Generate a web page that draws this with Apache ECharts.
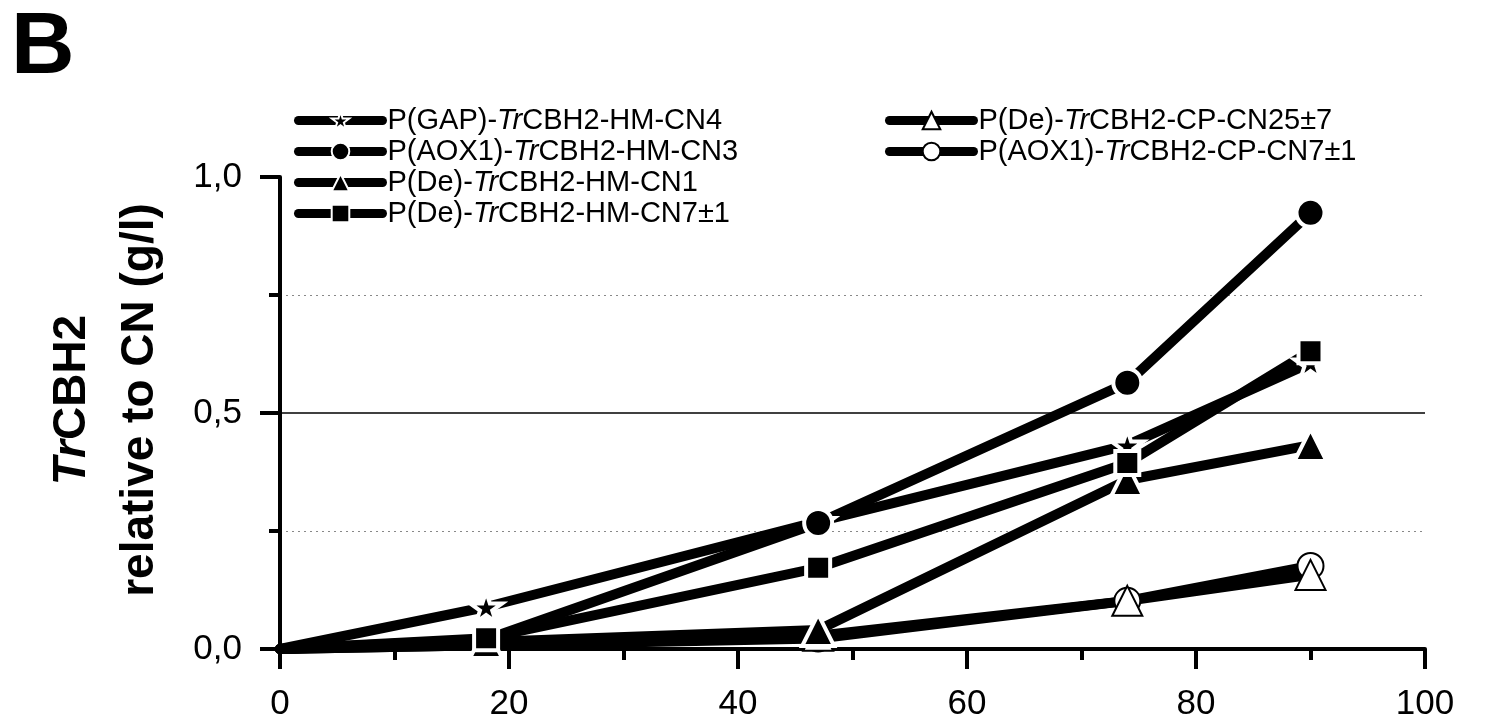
<!DOCTYPE html>
<html>
<head>
    <meta charset="utf-8">
    <title>TrCBH2 relative to CN</title>
    <script src="https://cdn.jsdelivr.net/npm/echarts@6/dist/echarts.min.js"></script>
    <style>
        html, body { margin: 0; padding: 0; background: #fff; }
        #chart { width: 1490px; height: 724px; }
    </style>
</head>
<body>
    <div id="chart"></div>

    <script>
    // time points (x) and values per strain
    const hours = [0, 18, 47, 74, 90];
    const gapHm4 = [0, 0.089, 0.27, 0.432, 0.606];
    const aoxHm3 = [0, 0.02, 0.267, 0.564, 0.924];
    const deHm1 = [0, 0.015, 0.04, 0.358, 0.432];
    const deHm7 = [0, 0.023, 0.172, 0.394, 0.631];
    const deCp25 = [0, 0.008, 0.028, 0.102, 0.157];
    const aoxCp7 = [0, 0.008, 0.022, 0.102, 0.176];

    const names = [
        'P(GAP)-TrCBH2-HM-CN4',
        'P(AOX1)-TrCBH2-HM-CN3',
        'P(De)-TrCBH2-HM-CN1',
        'P(De)-TrCBH2-HM-CN7±1',
        'P(De)-TrCBH2-CP-CN25±7',
        'P(AOX1)-TrCBH2-CP-CN7±1'
    ];
    const yTicks = { 0: '0,0', 0.5: '0,5', 1: '1,0' };

    const FONT = "'Liberation Sans', Arial, sans-serif";
    const STAR = 'path://M0,-1 L0.225,-0.309 L0.951,-0.309 L0.363,0.118 L0.588,0.809 L0,0.382 L-0.588,0.809 L-0.363,0.118 L-0.951,-0.309 L-0.225,-0.309 Z';

    // hidden: indexes whose marker sits under the line bundle in the figure
    function pairs(vals, hidden) {
        return hours.map(function (h, i) {
            const p = { value: [h, vals[i]] };
            if (i === 0 || hidden.indexOf(i) >= 0) p.symbol = 'none';
            return p;
        });
    }

    function makeSeries(name, vals, symbol, size, open, hidden) {
        return {
            name: name,
            type: 'line',
            data: pairs(vals, hidden || []),
            symbol: symbol,
            symbolSize: size,
            symbolKeepAspect: true,
            showAllSymbol: true,
            lineStyle: { color: '#000', width: 10, cap: 'round', join: 'round' },
            itemStyle: open
                ? { color: '#fff', borderColor: '#000', borderWidth: 2 }
                : { color: '#000', borderColor: '#fff', borderWidth: 4 },
            emphasis: { disabled: true },
            animation: false
        };
    }

    const legendText = {
        fontFamily: FONT,
        fontSize: 29,
        lineHeight: 29,
        color: '#000',
        rich: {
            i: { fontFamily: FONT, fontSize: 29, lineHeight: 29, fontStyle: 'italic', color: '#000' }
        }
    };
    function legendFmt(name) {
        return name.replace('Tr', '{i|Tr}');
    }
    function makeLegend(data, left) {
        return {
            data: data,
            orient: 'vertical',
            left: left,
            top: 101,
            itemWidth: 84,
            itemHeight: 22,
            itemGap: 2,
            textStyle: legendText,
            formatter: legendFmt,
            lineStyle: { width: 9, cap: 'round' },
            selectedMode: false
        };
    }

    const option = {
        backgroundColor: '#fff',
        animation: false,
        title: {
            text: 'B',
            left: 6,
            top: 0,
            textStyle: { fontFamily: FONT, fontSize: 88, fontWeight: 'bold', color: '#000' }
        },
        legend: [makeLegend(names.slice(0, 4), 289), makeLegend(names.slice(4), 880)],
        grid: { left: 280, right: 65, top: 177, bottom: 75 },
        xAxis: {
            type: 'value',
            min: 0,
            max: 100,
            interval: 20,
            axisLine: { lineStyle: { color: '#000', width: 4 } },
            axisTick: { length: 20, lineStyle: { color: '#000', width: 4 } },
            minorTick: { show: true, splitNumber: 2, length: 11, lineStyle: { color: '#000', width: 4 } },
            splitLine: { show: false },
            axisLabel: { fontFamily: FONT, fontSize: 35, color: '#000', margin: 38 }
        },
        yAxis: {
            type: 'value',
            min: 0,
            max: 1,
            interval: 0.5,
            axisLine: { show: true, lineStyle: { color: '#000', width: 4 } },
            axisTick: { show: true, length: 20, lineStyle: { color: '#000', width: 4 } },
            minorTick: { show: true, splitNumber: 2, length: 11, lineStyle: { color: '#000', width: 4 } },
            splitLine: { show: true, showMinLine: false, showMaxLine: false, lineStyle: { color: '#000', width: 1.5 } },
            minorSplitLine: { show: true, lineStyle: { color: '#888', width: 1, type: [2, 4] } },
            axisLabel: {
                fontFamily: FONT, fontSize: 35, color: '#000', margin: 38,
                formatter: function (v) { return yTicks[v] || ''; }
            }
        },
        graphic: [{
            type: 'text',
            x: 106,
            y: 400,
            rotation: Math.PI / 2,
            style: {
                text: '{i|Tr}{b|CBH2}\n{b|relative to CN (g/l)}',
                align: 'center',
                verticalAlign: 'middle',
                rich: {
                    i: { fontFamily: FONT, fontSize: 46, fontWeight: 'bold', fontStyle: 'italic', fill: '#000', lineHeight: 68 },
                    b: { fontFamily: FONT, fontSize: 46, fontWeight: 'bold', fill: '#000', lineHeight: 68 }
                }
            }
        }],
        series: [
            makeSeries(names[5], aoxCp7, 'circle', 26, true, [1]),
            makeSeries(names[4], deCp25, 'triangle', 30, true, [1]),
            makeSeries(names[2], deHm1, 'triangle', 32, false),
            makeSeries(names[0], gapHm4, STAR, 32, false),
            makeSeries(names[3], deHm7, 'rect', 24, false),
            makeSeries(names[1], aoxHm3, 'circle', 28, false, [1])
        ]
    };

    window.onload = function () {
        const chart = echarts.init(document.getElementById('chart'));
        chart.setOption(option);
    };
    </script>
</body>
</html>
